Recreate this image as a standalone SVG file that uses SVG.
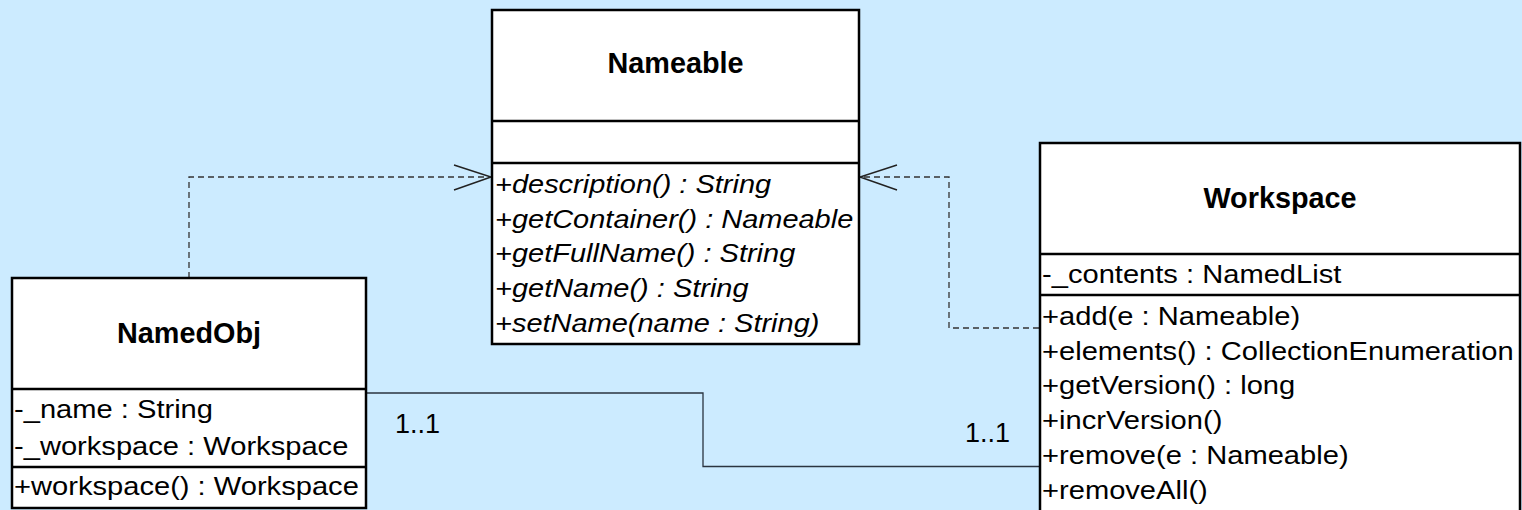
<svg xmlns="http://www.w3.org/2000/svg" width="1522" height="510" viewBox="0 0 1522 510">
<style>
.box{fill:#ffffff;stroke:#000000;stroke-width:2.5}
.div{stroke:#000000;stroke-width:2.5}
.title{font-family:"Liberation Sans",Arial,sans-serif;font-weight:bold;font-size:28.8px;fill:#000000;text-anchor:middle}
.mem{font-family:"Liberation Sans",Arial,sans-serif;font-size:26px;fill:#000000}
.it{font-style:italic}
.lbl{font-family:"Liberation Sans",Arial,sans-serif;font-size:27px;fill:#000000}
.dep{fill:none;stroke:#333333;stroke-width:1.3;stroke-dasharray:6,4}
.head{fill:none;stroke:#222222;stroke-width:1.5}
.assoc{fill:none;stroke:#2a3440;stroke-width:1.3}
</style>
<rect x="0" y="0" width="1522" height="510" fill="#CCEBFF"/>

<g id="connectors">
  <polyline class="dep" points="189,278 189,177 490,177"/>
  <polyline class="head" points="454,165 491,177 454,190"/>
  <polyline class="dep" points="1039,328 949,328 949,177 861,177"/>
  <polyline class="head" points="897,165 860,177 897,190"/>
  <polyline class="assoc" points="366,393 703,393 703,466.5 1040,466.5"/>
  <text class="lbl" x="395" y="433">1..1</text>
  <text class="lbl" x="965" y="442">1..1</text>
</g>

<g id="Nameable">
  <rect class="box" x="492" y="10" width="367" height="334"/>
  <line class="div" x1="492" y1="121" x2="859" y2="121"/>
  <line class="div" x1="492" y1="163" x2="859" y2="163"/>
  <text class="title" x="675.5" y="73">Nameable</text>
  <g transform="translate(495,0) scale(1.115,1)">
    <text class="mem it" x="0" y="193">+description() : String</text>
    <text class="mem it" x="0" y="228">+getContainer() : Nameable</text>
    <text class="mem it" x="0" y="262">+getFullName() : String</text>
    <text class="mem it" x="0" y="297">+getName() : String</text>
    <text class="mem it" x="0" y="332">+setName(name : String)</text>
  </g>
</g>

<g id="NamedObj">
  <rect class="box" x="12" y="278" width="354" height="230"/>
  <line class="div" x1="12" y1="389" x2="366" y2="389"/>
  <line class="div" x1="12" y1="467" x2="366" y2="467"/>
  <text class="title" x="189" y="343">NamedObj</text>
  <g transform="translate(14,0) scale(1.12,1)">
    <text class="mem" x="0" y="418">-_name : String</text>
    <text class="mem" x="0" y="455">-_workspace : Workspace</text>
    <text class="mem" x="0" y="495">+workspace() : Workspace</text>
  </g>
</g>

<g id="Workspace">
  <rect class="box" x="1040" y="143" width="480" height="380"/>
  <line class="div" x1="1040" y1="254" x2="1520" y2="254"/>
  <line class="div" x1="1040" y1="295" x2="1520" y2="295"/>
  <text class="title" x="1280" y="208">Workspace</text>
  <g transform="translate(1042,0) scale(1.12,1)">
    <text class="mem" x="0" y="283">-_contents : NamedList</text>
    <text class="mem" x="0" y="325">+add(e : Nameable)</text>
    <text class="mem" x="0" y="360">+elements() : CollectionEnumeration</text>
    <text class="mem" x="0" y="394.5">+getVersion() : long</text>
    <text class="mem" x="0" y="429.5">+incrVersion()</text>
    <text class="mem" x="0" y="464">+remove(e : Nameable)</text>
    <text class="mem" x="0" y="499">+removeAll()</text>
  </g>
</g>
</svg>
